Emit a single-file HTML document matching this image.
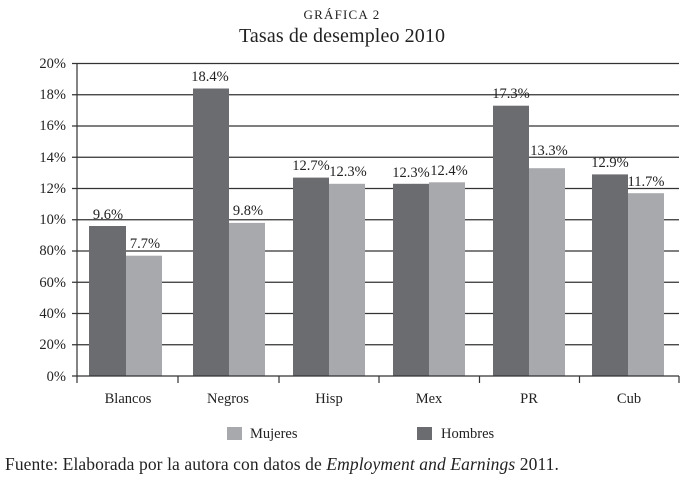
<!DOCTYPE html>
<html><head><meta charset="utf-8"><style>
body{margin:0;background:#fff;width:685px;height:482px;overflow:hidden;position:relative}
svg{display:block}
text{font-family:"Liberation Serif",serif;fill:#222}
.f{position:absolute;left:5px;top:454px;font-family:"Liberation Serif",serif;font-size:17.5px;color:#222;white-space:nowrap;letter-spacing:0.1px}
</style></head><body>
<svg width="685" height="482" viewBox="0 0 685 482" font-family="Liberation Serif, serif">
<text x="342" y="19" text-anchor="middle" font-size="13" letter-spacing="1.2">GRÁFICA 2</text>
<text x="342" y="42" text-anchor="middle" font-size="20" textLength="206">Tasas de desempleo 2010</text>
<g stroke="#333" stroke-width="1.2">
<line x1="72" y1="63.5" x2="679" y2="63.5"/>
<line x1="72" y1="94.75" x2="679" y2="94.75"/>
<line x1="72" y1="126" x2="679" y2="126"/>
<line x1="72" y1="157.25" x2="679" y2="157.25"/>
<line x1="72" y1="188.5" x2="679" y2="188.5"/>
<line x1="72" y1="219.75" x2="679" y2="219.75"/>
<line x1="72" y1="251" x2="679" y2="251"/>
<line x1="72" y1="282.25" x2="679" y2="282.25"/>
<line x1="72" y1="313.5" x2="679" y2="313.5"/>
<line x1="72" y1="344.75" x2="679" y2="344.75"/>
</g>
<g fill="#6b6c70">
<rect x="89" y="226" width="37" height="150"/>
<rect x="193" y="88.5" width="36" height="287.5"/>
<rect x="293" y="177.6" width="36" height="198.4"/>
<rect x="393" y="183.8" width="36" height="192.2"/>
<rect x="493" y="105.7" width="36" height="270.3"/>
<rect x="592" y="174.4" width="36" height="201.6"/>
</g>
<g fill="#a8a9ac">
<rect x="126" y="255.7" width="36" height="120.3"/>
<rect x="229" y="222.9" width="36" height="153.1"/>
<rect x="329" y="183.8" width="36" height="192.2"/>
<rect x="429" y="182.3" width="36" height="193.7"/>
<rect x="529" y="168.2" width="36" height="207.8"/>
<rect x="628" y="193.2" width="36" height="182.8"/>
</g>
<g stroke="#333" stroke-width="1.2">
<line x1="77" y1="63" x2="77" y2="383"/>
<line x1="72" y1="376" x2="679" y2="376"/>
<line x1="178" y1="376" x2="178" y2="383"/>
<line x1="279" y1="376" x2="279" y2="383"/>
<line x1="379" y1="376" x2="379" y2="383"/>
<line x1="479.5" y1="376" x2="479.5" y2="383"/>
<line x1="579.5" y1="376" x2="579.5" y2="383"/>
<line x1="679" y1="376" x2="679" y2="383"/>
</g>
<g font-size="14.5" text-anchor="end">
<text x="66" y="68">20%</text><text x="66" y="99">18%</text><text x="66" y="130">16%</text>
<text x="66" y="162">14%</text><text x="66" y="193">12%</text><text x="66" y="224">10%</text>
<text x="66" y="255">80%</text><text x="66" y="287">60%</text><text x="66" y="318">40%</text>
<text x="66" y="349">20%</text><text x="66" y="381">0%</text>
</g>
<g font-size="14.5" text-anchor="middle">
<text x="108" y="219">9.6%</text><text x="145" y="248">7.7%</text>
<text x="210" y="81">18.4%</text><text x="248" y="215">9.8%</text>
<text x="311" y="170">12.7%</text><text x="348" y="176">12.3%</text>
<text x="411" y="177">12.3%</text><text x="449" y="175">12.4%</text>
<text x="511" y="98">17.3%</text><text x="549" y="155">13.3%</text>
<text x="610" y="167">12.9%</text><text x="646" y="186">11.7%</text>
</g>
<g font-size="14.5" text-anchor="middle">
<text x="128" y="403">Blancos</text><text x="228" y="403">Negros</text>
<text x="329" y="403">Hisp</text><text x="429" y="403">Mex</text>
<text x="529" y="403">PR</text><text x="629" y="403">Cub</text>
</g>
<rect x="227" y="427" width="15" height="13" fill="#a8a9ac"/>
<text x="250" y="438" font-size="14.5">Mujeres</text>
<rect x="417" y="427" width="15" height="13" fill="#6b6c70"/>
<text x="441" y="438" font-size="14.5">Hombres</text>
</svg>
<div class="f">Fuente: Elaborada por la autora con datos de <i>Employment and Earnings</i> 2011.</div>
</body></html>
